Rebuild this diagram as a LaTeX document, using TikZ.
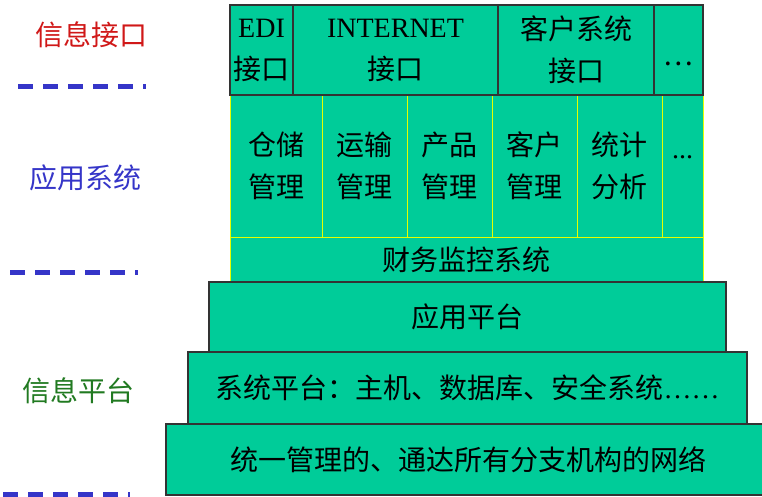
\documentclass[tikz,border=0pt]{standalone}
\usepackage{fontspec}
\setmainfont{Liberation Serif}
\newfontfamily\cjk{Noto Sans CJK SC}
\usepackage{xcolor}
\usepackage{tikz}

\definecolor{slabfill}{HTML}{00CC99}
\definecolor{slabedge}{HTML}{333333}
\definecolor{lemon}{HTML}{E6FF00}
\definecolor{lblred}{HTML}{D01818}
\definecolor{lblblue}{HTML}{3535C8}
\definecolor{lblgreen}{HTML}{217A21}

\begin{document}
\begin{tikzpicture}[
    x=1pt,y=-1pt,
    slab/.style={rectangle,draw=slabedge,line width=1.2pt,fill=slabfill,inner sep=0pt,outer sep=0pt,
        align=center,font=\cjk\fontsize{28}{42}\selectfont},
    cell/.style={slab,draw=lemon,line width=0.9pt},
    lbl/.style={font=\cjk\fontsize{28}{34}\selectfont,inner sep=0pt},
    sep/.style={draw=lblblue,line width=5pt,dash pattern=on 15pt off 10pt}
]
\useasboundingbox (0,0) rectangle (762,496);

% application systems
\node[cell,minimum width=92pt,minimum height=142pt] (store) at (276,166) {仓储\\管理};
\node[cell,minimum width=85pt,minimum height=142pt] (trans) at (364.5,166) {运输\\管理};
\node[cell,minimum width=85pt,minimum height=142pt] (prod) at (449.5,166) {产品\\管理};
\node[cell,minimum width=85pt,minimum height=142pt] (client) at (534.5,166) {客户\\管理};
\node[cell,minimum width=85pt,minimum height=142pt] (stat) at (619.5,166) {统计\\分析};
\node[cell,minimum width=41pt,minimum height=142pt] (appmore) at (682.5,166) {{\rmfamily\raisebox{-13pt}{...}}\\\mbox{}};
\node[cell,minimum width=473pt,minimum height=45pt] (finance) at (466.5,259.5) {财务监控系统};

% interfaces
\node[slab,minimum width=63pt,minimum height=90pt] (edi) at (261.5,50) {{\rmfamily EDI}\\接口};
\node[slab,minimum width=205pt,minimum height=90pt] (inet) at (395.5,50) {{\rmfamily INTERNET}\\接口};
\node[slab,minimum width=156pt,minimum height=90pt] (custif) at (576,50) {客户系统\\接口};
\node[slab,minimum width=49pt,minimum height=90pt] (ifmore) at (678.5,50) {\raisebox{-15pt}[0pt][0pt]{…}};

% platforms
\node[slab,minimum width=517pt,minimum height=70pt] (appplat) at (467.5,317) {应用平台};
\node[slab,minimum width=559pt,minimum height=72pt] (sysplat) at (467.5,388) {系统平台：主机、数据库、安全系统{\rmfamily ……}};
\node[slab,minimum width=604pt,minimum height=71pt] (net) at (468,459.5) {统一管理的、通达所有分支机构的网络};

% left side
\node[lbl,text=lblred] (lbinfo) at (91,35) {信息接口};
\node[lbl,text=lblblue] (lbapp) at (85,178) {应用系统};
\node[lbl,text=lblgreen] (lbplat) at (78,391) {信息平台};
\draw[sep] (18,86) -- (146,86);
\draw[sep] (10,272) -- (138,272);
\draw[sep] (3,494) -- (130,494);
\end{tikzpicture}
\end{document}
